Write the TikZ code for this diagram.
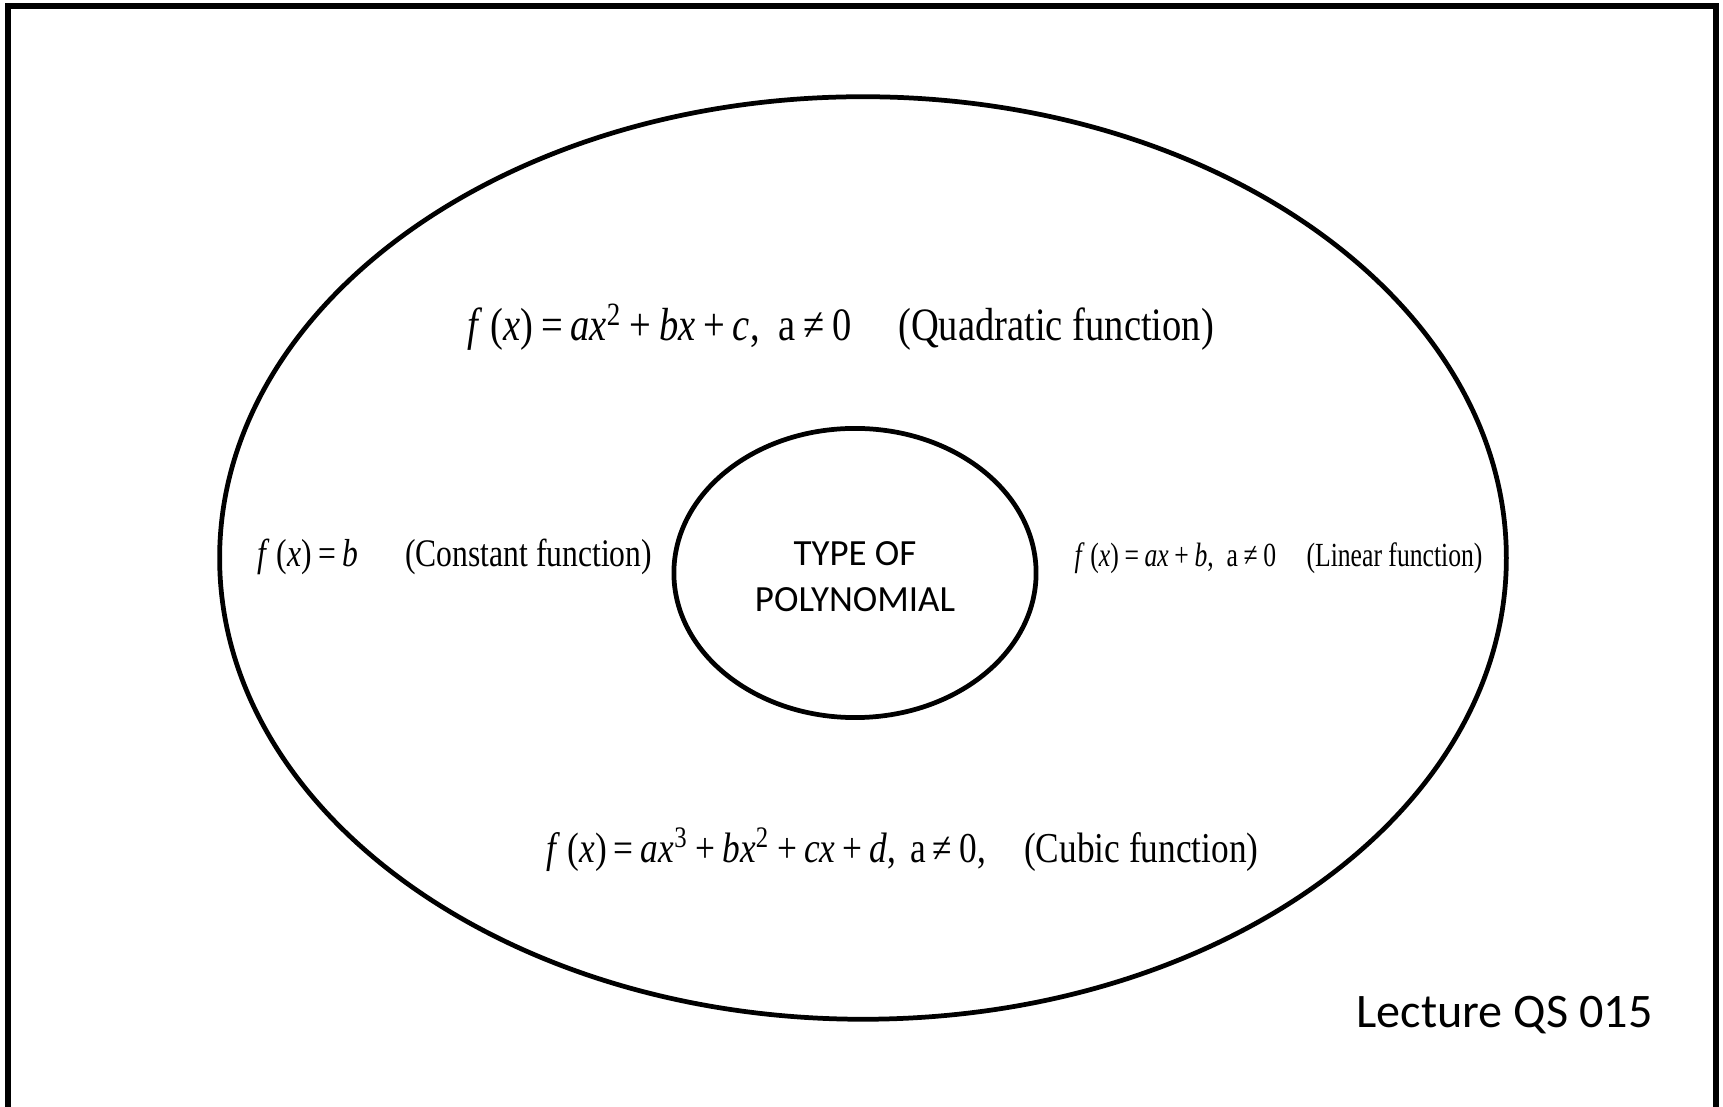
\documentclass[tikz,border=0pt]{standalone}
\usepackage{fontspec}
\setmainfont{Carlito}
\newfontfamily\eqfont[FakeStretch=0.83]{Liberation Serif}
\newfontfamily\eqfontc[FakeStretch=0.81]{Liberation Serif}
\newfontfamily\eqfontlin[FakeStretch=0.76]{Liberation Serif}
\usetikzlibrary{shapes.geometric}

\tikzset{
  oval/.style={draw,ellipse,line width=1.35pt,inner sep=0pt},
  formula/.style={inner sep=0pt,anchor=base west},
}
\newcommand{\vr}[1]{\textit{#1}}

\begin{document}
\begin{tikzpicture}[x=0.01cm,y=-0.01cm]

		\useasboundingbox (0,0) rectangle (1723,1107);

		% --- frame (open at the bottom) ---
		\draw[line width=1.45pt] (8,1115) -- (8,6) -- (1716,6) -- (1716,1115);

		% outer and inner ovals
		\node[oval,minimum width=12.86cm,minimum height=9.22cm] (outer) at (863,558) {};
		\node[oval,minimum width=3.62cm,minimum height=2.89cm] (type) at (855,573) {};
		\node[align=center,inner sep=0pt,font=\fontsize{10.5}{13.1}\selectfont]
		  (typetxt) at ([yshift=-0.04cm]type.center) {TYPE OF\\POLYNOMIAL};

		% the four kinds of polynomial
		\node[formula,font=\eqfont\fontsize{13.2}{15}\selectfont] (quad) at (467,341)
		  {\vr{f}\,(\vr{x})\,=\,\vr{ax}\textsuperscript{2}\,+\,\vr{bx}\,+\,\vr{c}, \ a\,≠\,0\hspace{1.0em}(Quadratic function)};
		\node[formula,font=\eqfontc\fontsize{11.1}{13}\selectfont] (const) at (257,567)
		  {\vr{f}\,(\vr{x})\,=\,\vr{b}\hspace{1.2em}(Constant function)};
		\node[formula,font=\eqfontlin\fontsize{9.6}{11}\selectfont] (lin) at (1074,567)
		  {\vr{f}\,(\vr{x})\,=\,\vr{ax}\,+\,\vr{b}, \ a\,≠\,0\hspace{0.9em}(Linear function)};
		\node[formula,font=\eqfont\fontsize{12.1}{14}\selectfont] (cubic) at (546,863)
		  {\vr{f}\,(\vr{x})\,=\,\vr{ax}\textsuperscript{3}\,+\,\vr{bx}\textsuperscript{2}\,+\,\vr{cx}\,+\,\vr{d},\,\,a\,≠\,0,\hspace{0.9em}(Cubic function)};

		% label
		\node[formula,font=\fontsize{13.7}{16}\selectfont] (lect) at (1356,1028) {Lecture QS 015};

\end{tikzpicture}
\end{document}
